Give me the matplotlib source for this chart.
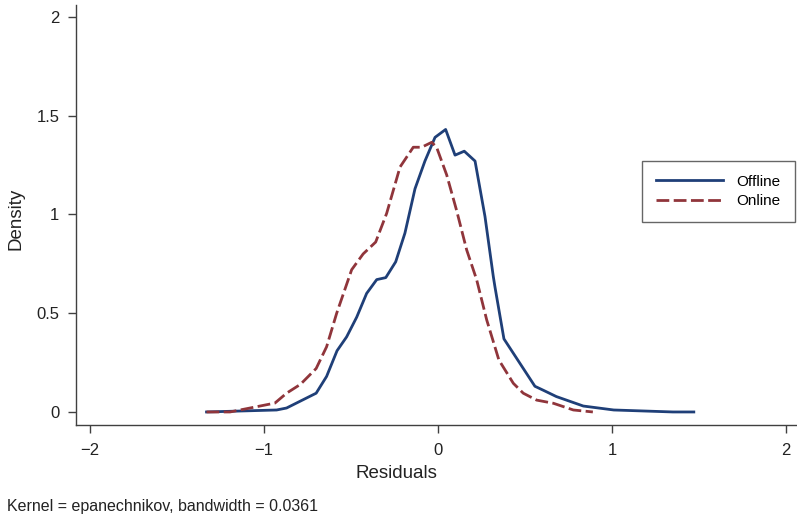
import matplotlib
matplotlib.use("Agg")
import matplotlib.pyplot as plt

plt.rcParams['font.family'] = ['Liberation Sans', 'DejaVu Sans']

offline_x = [-1.33, -0.927, -0.87, -0.70, -0.64, -0.58, -0.525, -0.467, -0.41, -0.352, -0.30,
             -0.243, -0.19, -0.132, -0.075, -0.017, 0.044, 0.098, 0.151, 0.213, 0.27, 0.318,
             0.328, 0.379, 0.557, 0.605, 0.68, 0.835, 1.01, 1.35, 1.47]
offline_y = [0.0, 0.01, 0.02, 0.095, 0.18, 0.31, 0.38, 0.48, 0.60, 0.67, 0.68,
             0.76, 0.905, 1.13, 1.27, 1.39, 1.43, 1.30, 1.32, 1.27, 0.99, 0.685,
             0.63, 0.37, 0.13, 0.11, 0.078, 0.03, 0.01, 0.0, 0.0]

online_x = [-1.33, -1.195, -1.08, -0.937, -0.87, -0.79, -0.70, -0.64, -0.582, -0.496, -0.43,
            -0.358, -0.295, -0.218, -0.142, -0.094, -0.036, -0.008, 0.05, 0.107, 0.165, 0.222,
            0.28, 0.35, 0.433, 0.49, 0.567, 0.663, 0.778, 0.89]
online_y = [0.0, 0.0, 0.02, 0.045, 0.095, 0.14, 0.22, 0.33, 0.50, 0.72, 0.80,
            0.86, 1.005, 1.24, 1.34, 1.34, 1.365, 1.34, 1.20, 1.02, 0.82, 0.67,
            0.466, 0.263, 0.145, 0.095, 0.06, 0.044, 0.01, 0.0]

x_ticks = [-2, -1, 0, 1, 2]
x_labels = ['\u22122', '\u22121', '0', '1', '2']
y_ticks = [0, 0.5, 1, 1.5, 2]
y_labels = ['0', '0.5', '1', '1.5', '2']

navy = '#1F3F78'
maroon = '#90353B'

W, H = 797, 518
fig = plt.figure(figsize=(W / 100, H / 100), dpi=100)
ax = fig.add_axes([76 / W, 93 / H, 1 - 76 / W, 420 / H])

ax.plot(offline_x, offline_y, color=navy, lw=2.0, label='Offline')
ax.plot(online_x, online_y, color=maroon, lw=2.0, ls=(0, (4.6, 1.6)), label='Online')

ax.set_xlim(-2.08, 2.063)
ax.set_ylim(-0.066, 2.06)
ax.set_xticks(x_ticks)
ax.set_xticklabels(x_labels)
ax.set_yticks(y_ticks)
ax.set_yticklabels(y_labels)

for s in ['top', 'right']:
    ax.spines[s].set_visible(False)
for s in ['left', 'bottom']:
    ax.spines[s].set_color('#404040')
    ax.spines[s].set_linewidth(1.0)
ax.tick_params(direction='out', length=6, width=1.0, color='#404040', labelsize=12,
               labelcolor='#222222')
ax.tick_params(axis='x', pad=7)
ax.tick_params(axis='y', pad=6)

fig.text(396 / W, 1 - 474 / H, 'Residuals', fontsize=13.5, color='#222222',
         ha='center', va='center')
fig.text(16 / W, 1 - 219 / H, 'Density', fontsize=13.5, color='#222222',
         ha='center', va='center', rotation=90)

leg = ax.legend(loc='upper left', bbox_to_anchor=(642 / W, 1 - 161 / H),
                bbox_transform=fig.transFigure, fontsize=11,
                frameon=True, fancybox=False, handlelength=4.4, borderpad=0.9,
                labelspacing=0.35, handletextpad=0.9, borderaxespad=0)
leg.get_frame().set_edgecolor('#404040')
leg.get_frame().set_linewidth(1.0)

fig.text(7 / W, 1 - 507 / H, 'Kernel = epanechnikov, bandwidth = 0.0361', fontsize=11.5,
         color='#222222', va='center', ha='left')

fig.savefig('out.png', dpi=100)
